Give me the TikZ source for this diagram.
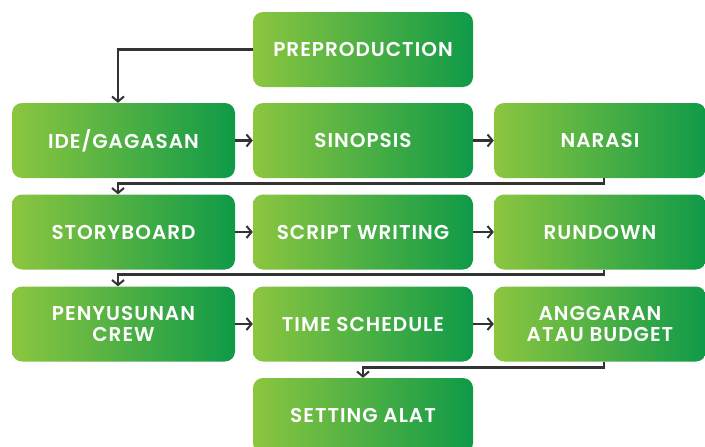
\documentclass[tikz,border=0pt]{standalone}
\usepackage{fontspec}
\setmainfont{Poppins}[BoldFont={* SemiBold},LetterSpace=5]
\usetikzlibrary{arrows.meta}
\usetikzlibrary{positioning}
\definecolor{lightgreen}{HTML}{8CC63F}
\definecolor{darkgreen}{HTML}{0F9A48}
\definecolor{linegray}{HTML}{333333}
\tikzset{%
  stepbox/.style={
    rectangle,
    rounded corners=10pt,
    left color=lightgreen,
    right color=darkgreen,
    draw=none,
    minimum height=75pt,
    inner sep=0pt,
    align=center,
    text=white,
    font=\fontsize{20}{21.5}\selectfont\bfseries
  },
  wide/.style={minimum width=223pt},
  mid/.style={minimum width=220pt},
  narrow/.style={minimum width=212pt},
  link/.style={
    draw=linegray,
    line width=2.6pt,
    -{Straight Barb[length=5pt,width=12pt,line width=2pt]}
  },
}

\begin{document}
\begin{tikzpicture}[x=1pt,y=-1pt]
  \useasboundingbox (0,0) rectangle (705,447);

  \node (a) at (363,49.5) [stepbox,mid] {PREPRODUCTION};

  \node (b) at (123.5,140.5) [stepbox,wide] {IDE/GAGASAN};
  \node (c) at (363,140.5) [stepbox,mid] {SINOPSIS};
  \node (d) at (600,140.5) [stepbox,narrow] {NARASI};

  \node (e) at (123.5,232) [stepbox,wide] {STORYBOARD};
  \node (f) at (363,232) [stepbox,mid] {SCRIPT WRITING};
  \node (g) at (600,232) [stepbox,narrow] {RUNDOWN};

  \node (h) at (123.5,324) [stepbox,wide] {PENYUSUNAN\\CREW};
  \node (i) at (363,324) [stepbox,mid] {TIME SCHEDULE};
  \node (j) at (600,324) [stepbox,narrow] {ANGGARAN\\ATAU BUDGET};

  \node (k) at (363,415.5) [stepbox,mid] {SETTING ALAT};

  \draw [link] (a.west) -| ([xshift=-5.5pt]b.north);
  \draw [link] (b) -- (c);
  \draw [link] (c) -- (d);
  \draw [link] ([xshift=4pt]d.south) -- ++(0,5) -| ([xshift=-5.5pt]e.north);
  \draw [link] (e) -- (f);
  \draw [link] (f) -- (g);
  \draw [link] ([xshift=4pt]g.south) -- ++(0,5) -| ([xshift=-5.5pt]h.north);
  \draw [link] (h) -- (i);
  \draw [link] (i) -- (j);
  \draw [link] ([xshift=4pt]j.south) -- ++(0,6) -| (k.north);
\end{tikzpicture}
\end{document}
